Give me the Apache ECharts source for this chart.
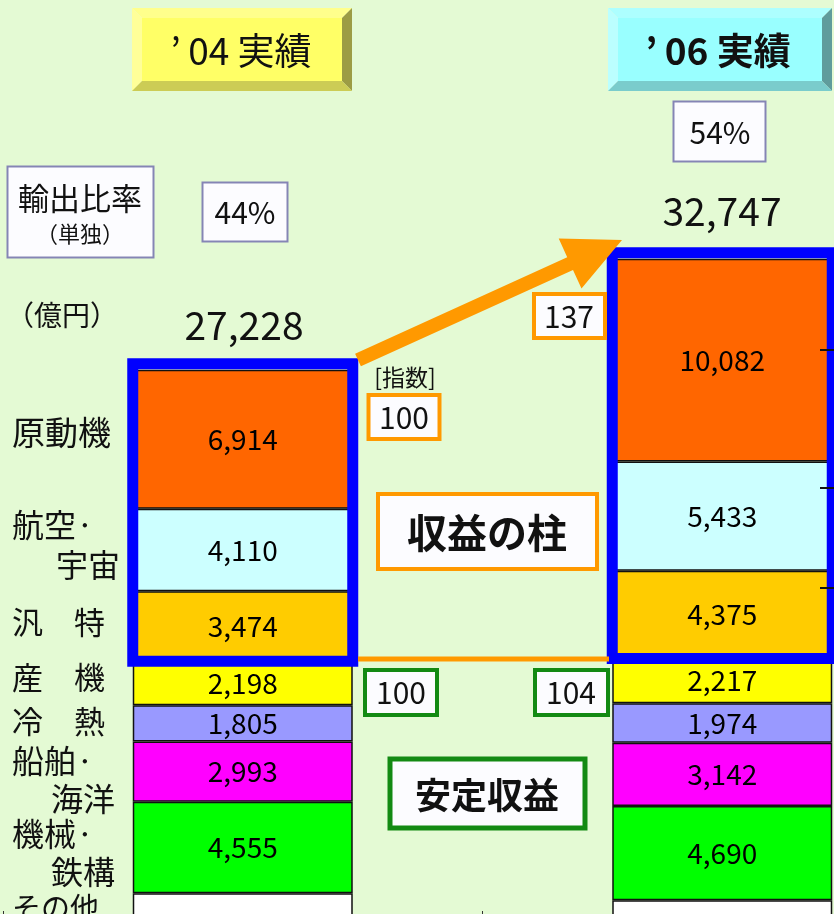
<!DOCTYPE html>
<html>
<head>
<meta charset="utf-8">
<script src="https://cdn.jsdelivr.net/npm/echarts@6/dist/echarts.min.js"></script>
<style>
  html, body { margin: 0; padding: 0; background: #e4fad4; }
  #main { width: 834px; height: 914px; }
</style>
</head>
<body>
<div id="main"></div>
<script>
// 億円
const years = ['’04 実績', '’06 実績']
const segNames = ['その他', '機械・鉄構', '船舶・海洋', '冷熱', '産機', '汎特', '航空・宇宙', '原動機']
const segColors = ['#ffffff', '#00ff00', '#ff00ff', '#9999ff', '#ffff00', '#ffcc00', '#ccffff', '#ff6600']
const v04 = [1179, 4555, 2993, 1805, 2198, 3474, 4110, 6914]
const v06 = [834, 4690, 3142, 1974, 2217, 4375, 5433, 10082]
const totals = ['27,228', '32,747']
const exportRatio = ['44%', '54%']
const pillarIndex = ['100', '137']
const stableIndex = ['100', '104']

const FONT = '"Noto Sans CJK JP", "Noto Sans", sans-serif'
const pillarFrom = 5 // 汎特 から上が「収益の柱」

let dom = echarts.init(document.getElementById('main'))

const series = segNames.map((name, i) => ({
  name: name,
  type: 'bar',
  stack: 'total',
  barWidth: 220,
  data: [v04[i], v06[i]],
  itemStyle: {
    color: segColors[i],
    borderColor: '#111',
    borderWidth: 1.5
  },
  label: {
    show: i > 0,
    position: 'inside',
    color: '#000',
    fontSize: 28,
    fontFamily: FONT,
    formatter: p => p.value.toLocaleString('en-US')
  }
}))

// blue frame round the top three segments
const frameData = [v04, v06].map((vals, c) => {
  let low = 0
  for (let i = 0; i < pillarFrom; i++) low += vals[i]
  let high = vals.reduce((a, b) => a + b, 0)
  return [c, low, high]
})
series.push({
  type: 'custom',
  z: 5,
  data: frameData,
  renderItem: (params, api) => {
    const lo = api.coord([api.value(0), api.value(1)])
    const hi = api.coord([api.value(0), api.value(2)])
    return {
      type: 'rect',
      shape: { x: lo[0] - 110, y: hi[1] - 6, width: 220, height: lo[1] - hi[1] + 6 },
      style: { fill: 'none', stroke: '#0000ff', lineWidth: 11 }
    }
  }
})

function txt(x, y, text, size, opts) {
  opts = opts || {}
  return {
    type: 'text', x: x, y: y, z: 20,
    style: {
      text: text,
      fontSize: size,
      fontFamily: FONT,
      fontWeight: opts.bold ? 'bold' : 'normal',
      fill: opts.color || '#111',
      align: opts.align || 'center',
      verticalAlign: 'middle',
      textAlign: opts.align || 'center',
      textVerticalAlign: 'middle'
    }
  }
}

function box(x, y, w, h, stroke, lw) {
  return {
    type: 'rect', z: 15,
    shape: { x: x, y: y, width: w, height: h },
    style: { fill: '#fcfcff', stroke: stroke, lineWidth: lw }
  }
}

function bevel(x, y, w, h, b, c) {
  const x2 = x + w, y2 = y + h
  return [
    { type: 'polygon', z: 10, shape: { points: [[x, y], [x2, y], [x2 - b, y + b], [x + b, y + b]] }, style: { fill: c.top } },
    { type: 'polygon', z: 10, shape: { points: [[x, y], [x + b, y + b], [x + b, y2 - b], [x, y2]] }, style: { fill: c.left } },
    { type: 'polygon', z: 10, shape: { points: [[x2, y], [x2, y2], [x2 - b, y2 - b], [x2 - b, y + b]] }, style: { fill: c.right } },
    { type: 'polygon', z: 10, shape: { points: [[x, y2], [x + b, y2 - b], [x2 - b, y2 - b], [x2, y2]] }, style: { fill: c.bottom } },
    { type: 'rect', z: 10, shape: { x: x + b, y: y + b, width: w - 2 * b, height: h - 2 * b }, style: { fill: c.face } }
  ]
}

function arrow(sx, sy, tx, ty, shaftHalf, headLen, headHalf) {
  const dx = tx - sx, dy = ty - sy
  const len = Math.sqrt(dx * dx + dy * dy)
  const ux = dx / len, uy = dy / len
  const nx = -uy, ny = ux
  const bx = tx - headLen * ux, by = ty - headLen * uy
  return {
    type: 'polygon', z: 12,
    shape: {
      points: [
        [sx - shaftHalf * nx, sy - shaftHalf * ny],
        [bx - shaftHalf * nx, by - shaftHalf * ny],
        [bx - headHalf * nx, by - headHalf * ny],
        [tx, ty],
        [bx + headHalf * nx, by + headHalf * ny],
        [bx + shaftHalf * nx, by + shaftHalf * ny],
        [sx + shaftHalf * nx, sy + shaftHalf * ny]
      ]
    },
    style: { fill: '#ff9900' }
  }
}

// apostrophe sits a little apart from the year in the slide
const yearText = s => s.replace('’', '’\u2009')

const ORANGE = '#ff9900'
const GREEN = '#138a13'
const PURPLE = '#8585b5'

let graphics = []
  .concat(bevel(132, 8, 220, 83, 10, { face: '#ffff66', top: '#ffff8c', left: '#ffff99', right: '#9c9c44', bottom: '#cccc55' }))
  .concat(bevel(608, 8, 224, 83, 10, { face: '#99ffff', top: '#adffff', left: '#bbffff', right: '#5f9c9c', bottom: '#7acccc' }))
  .concat([
    txt(241, 51, yearText(years[0]), 37),
    txt(718, 51, yearText(years[1]), 37, { bold: true }),

    box(7.5, 166.5, 146, 91, PURPLE, 2),
    txt(80, 198, '輸出比率', 31),
    txt(80, 234, '（単独）', 22),
    box(202.5, 182.5, 85, 59, PURPLE, 2),
    txt(245, 213, exportRatio[0], 30),
    box(673.5, 101.5, 92, 60, PURPLE, 2),
    txt(720, 133, exportRatio[1], 30),

    txt(62, 315, '（億円）', 28),
    txt(244, 325, totals[0], 39),
    txt(722, 211, totals[1], 39),

    arrow(358, 360, 622, 240, 7, 57, 27.5),
    { type: 'line', z: 12, shape: { x1: 358, y1: 659, x2: 609, y2: 659 }, style: { stroke: ORANGE, lineWidth: 5 } },

    txt(405, 377, '[指数]', 23),
    box(368.5, 395, 71, 44, ORANGE, 4),
    txt(404, 418, pillarIndex[0], 30),
    box(534, 294, 71, 44, ORANGE, 4),
    txt(569, 317, pillarIndex[1], 30),
    box(378, 494, 219, 75, ORANGE, 4),
    txt(487, 533, '収益の柱', 40, { bold: true }),

    box(365, 670, 72, 45, GREEN, 4),
    txt(401, 693, stableIndex[0], 30),
    box(535, 670, 73, 45, GREEN, 4),
    txt(571, 693, stableIndex[1], 30),
    box(390, 759, 195, 69, GREEN, 5),
    txt(487, 795, '安定収益', 36, { bold: true }),

    txt(12, 432, '原動機', 33, { align: 'left' }),
    txt(12, 525, '航空·', 32, { align: 'left' }),
    txt(120, 565, '宇宙', 32, { align: 'right' }),
    txt(12, 622, '汎　特', 31, { align: 'left' }),
    txt(12, 677, '産　機', 31, { align: 'left' }),
    txt(12, 721, '冷　熱', 31, { align: 'left' }),
    txt(12, 761, '船舶·', 32, { align: 'left' }),
    txt(115, 799, '海洋', 32, { align: 'right' }),
    txt(12, 834, '機械·', 32, { align: 'left' }),
    txt(115, 872, '鉄構', 32, { align: 'right' }),
    txt(12, 908, 'その他', 29, { align: 'left' })
  ])

// small tick marks on the right edge
;[350, 488, 588].forEach(y => {
  graphics.push({ type: 'line', z: 12, shape: { x1: 820, y1: y, x2: 834, y2: y }, style: { stroke: '#111', lineWidth: 2 } })
})

let option = {
  backgroundColor: '#e4fad4',
  animation: false,
  grid: {
    left: 3,
    top: 12.5,
    width: 959,
    height: 904.5,
    outerBoundsMode: 'none',
    containLabel: false
  },
  xAxis: {
    type: 'category',
    data: years,
    axisLine: { show: false },
    axisLabel: { show: false },
    axisTick: { show: true, inside: true, length: 6, lineStyle: { color: '#333' } }
  },
  yAxis: {
    type: 'value',
    min: 0,
    max: 45000,
    show: false
  },
  series: series,
  graphic: { elements: graphics }
}

dom.setOption(option)
</script>
</body>
</html>
